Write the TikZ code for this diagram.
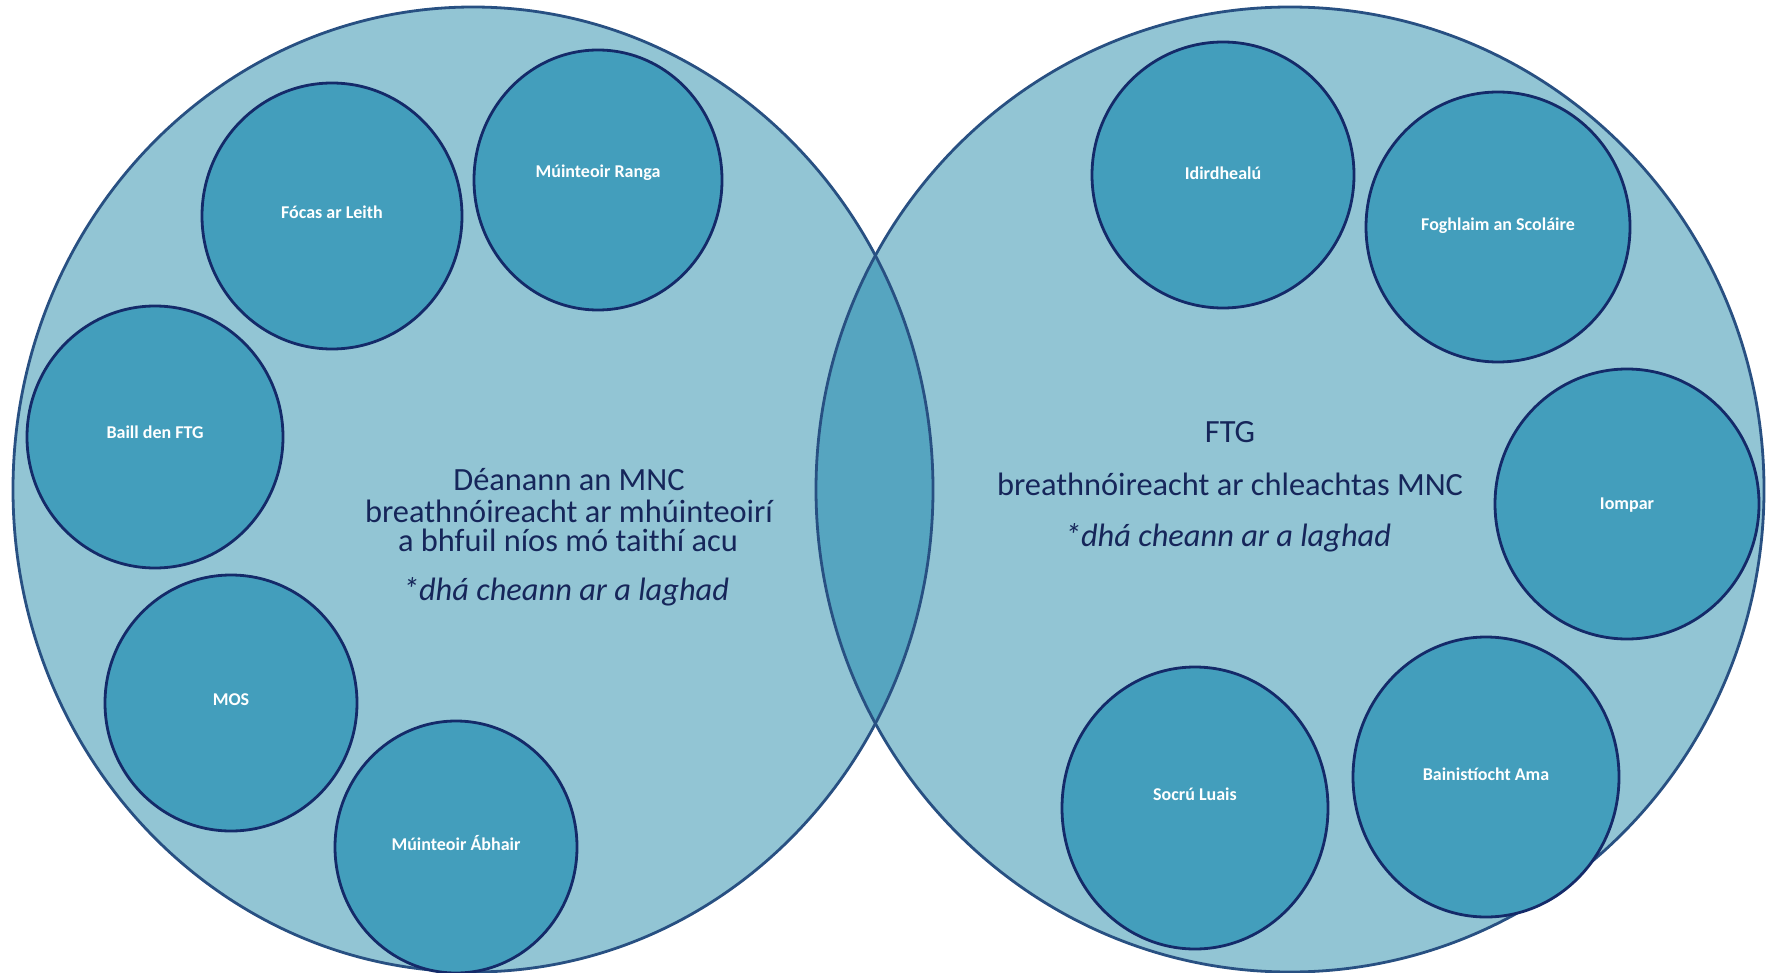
\documentclass[tikz,border=0pt]{standalone}
\usepackage{fontspec}
\setmainfont{Carlito}
\usetikzlibrary{shapes.geometric}
\definecolor{bigfill}{RGB}{146,197,212}
\definecolor{smallfill}{RGB}{67,158,188}
\definecolor{lensfill}{RGB}{86,165,192}
\definecolor{bigline}{RGB}{40,80,130}
\definecolor{smallline}{RGB}{20,42,105}
\definecolor{maintext}{RGB}{22,38,90}
\begin{document}
\begin{tikzpicture}[x=0.5pt,y=-0.5pt,
  smallc/.style={ellipse, draw=smallline, line width=1.4pt, fill=smallfill, inner sep=0pt,
    text=white, font=\fontsize{9}{10}\selectfont\bfseries, text height=6.5pt, text depth=1.5pt},
  maintxt/.style={anchor=base, text=maintext, inner sep=0pt, font=\fontsize{16.2}{18}\selectfont},
  itxt/.style={anchor=base, text=maintext, inner sep=0pt, font=\fontsize{16.2}{18}\selectfont\itshape},
  bigedge/.style={draw=bigline, line width=1.4pt}]
\useasboundingbox (0,0) rectangle (1766,973);
\fill[white] (0,0) rectangle (1766,973);
% big ellipses
\fill[bigfill] (473,489.5) ellipse [x radius=230pt, y radius=241.25pt];
\fill[bigfill] (1290,489.5) ellipse [x radius=237pt, y radius=241.25pt];
\begin{scope}
  \clip (473,489.5) ellipse [x radius=230pt, y radius=241.25pt];
  \fill[lensfill] (1290,489.5) ellipse [x radius=237pt, y radius=241.25pt];
\end{scope}
\path[bigedge] (473,489.5) ellipse [x radius=230pt, y radius=241.25pt];
\path[bigedge] (1290,489.5) ellipse [x radius=237pt, y radius=241.25pt];
% small circles, left
\node[smallc, minimum width=130pt, minimum height=133pt, text depth=4pt] (foc) at (332,216) {Fócas ar Leith};
\node[smallc, minimum width=124pt, minimum height=130pt, text depth=9pt] (ranga) at (598,180) {Múinteoir Ranga};
\node[smallc, minimum width=128pt, minimum height=131pt, text depth=5pt] (baill) at (155,437) {Baill den FTG};
\node[smallc, minimum width=126pt, minimum height=128pt, text depth=4pt] (mos) at (231,703) {MOS};
\node[smallc, minimum width=121pt, minimum height=126pt, text depth=3pt] (abhair) at (456,847) {Múinteoir Ábhair};
% small circles, right
\node[smallc, minimum width=131pt, minimum height=133pt] (idir) at (1223,175) {Idirdhealú};
\node[smallc, minimum width=132pt, minimum height=135pt, text depth=3pt] (fogh) at (1498,227) {Foghlaim an Scoláire};
\node[smallc, minimum width=132pt, minimum height=135pt] (iomp) at (1627,504) {Iompar};
\node[smallc, minimum width=133pt, minimum height=140pt, text depth=3pt] (bain) at (1486,777) {Bainistíocht Ama};
\node[smallc, minimum width=133pt, minimum height=141pt, text depth=14pt] (socru) at (1195,808) {Socrú Luais};
% main texts
\node[maintxt] (l1) at (569,490) {Déanann an MNC};
\node[maintxt] (l2) at (569,522) {breathnóireacht ar mhúinteoirí};
\node[maintxt] (l3) at (568,551) {a bhfuil níos mó taithí acu};
\node[itxt] (l4) at (566,600) {*dhá cheann ar a laghad};
\node[maintxt] (r1) at (1230,442) {FTG};
\node[maintxt] (r2) at (1230,495) {breathnóireacht ar chleachtas MNC};
\node[itxt] (r3) at (1228,546) {*dhá cheann ar a laghad};
\end{tikzpicture}
\end{document}
